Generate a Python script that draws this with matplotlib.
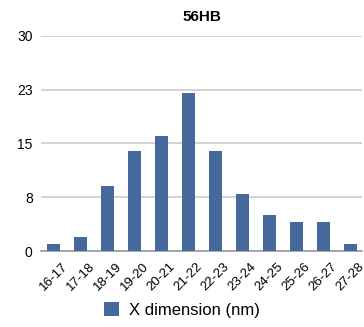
import matplotlib
matplotlib.use("Agg")
import matplotlib.pyplot as plt
from matplotlib.patches import Patch

categories = ["16-17", "17-18", "18-19", "19-20", "20-21", "21-22", "22-23",
              "23-24", "24-25", "25-26", "26-27", "27-28"]
values = [1, 2, 9, 14, 16, 22, 14, 8, 5, 4, 4, 1]
yticks = [0, 7.5, 15, 22.5, 30]
ytick_labels = ["0", "8", "15", "23", "30"]
series_name = "X dimension (nm)"
title = "56HB"

plt.rcParams['font.family'] = ['Liberation Sans', 'DejaVu Sans']
bar_color = "#46699C"

fig = plt.figure(figsize=(3.64, 3.27), dpi=100)
ax = fig.add_axes([0.1126, 0.2324, 0.882, 0.658])
x = list(range(len(categories)))
ax.bar(x, values, width=0.48, color=bar_color, zorder=3)
ax.set_xlim(-0.47, 11.42)
ax.set_ylim(0, 30)
ax.set_yticks(yticks)
ax.set_yticklabels(ytick_labels, fontsize=10)
ax.set_xticks(x)
ax.set_xticklabels(categories, rotation=45, ha="center", va="top", fontsize=9.5)
ax.tick_params(axis="both", length=0)
ax.tick_params(axis="y", pad=6)
ax.tick_params(axis="x", pad=7)
ax.grid(axis="y", color="#CCCCCC", linewidth=1.2, zorder=0)
for s in ["top", "right", "left"]:
    ax.spines[s].set_visible(False)
ax.spines["bottom"].set_color("#999999")
ax.spines["bottom"].set_linewidth(1.2)
ax.set_title(title, fontsize=11, fontweight="bold", pad=11)

handle = Patch(facecolor=bar_color, edgecolor="none")
fig.legend([handle], [series_name], loc="center", bbox_to_anchor=(182/364, 1 - 310/327),
           frameon=False, fontsize=12, handlelength=0.9, handleheight=0.9,
           handletextpad=0.6)

fig.savefig("out.png", dpi=100)
